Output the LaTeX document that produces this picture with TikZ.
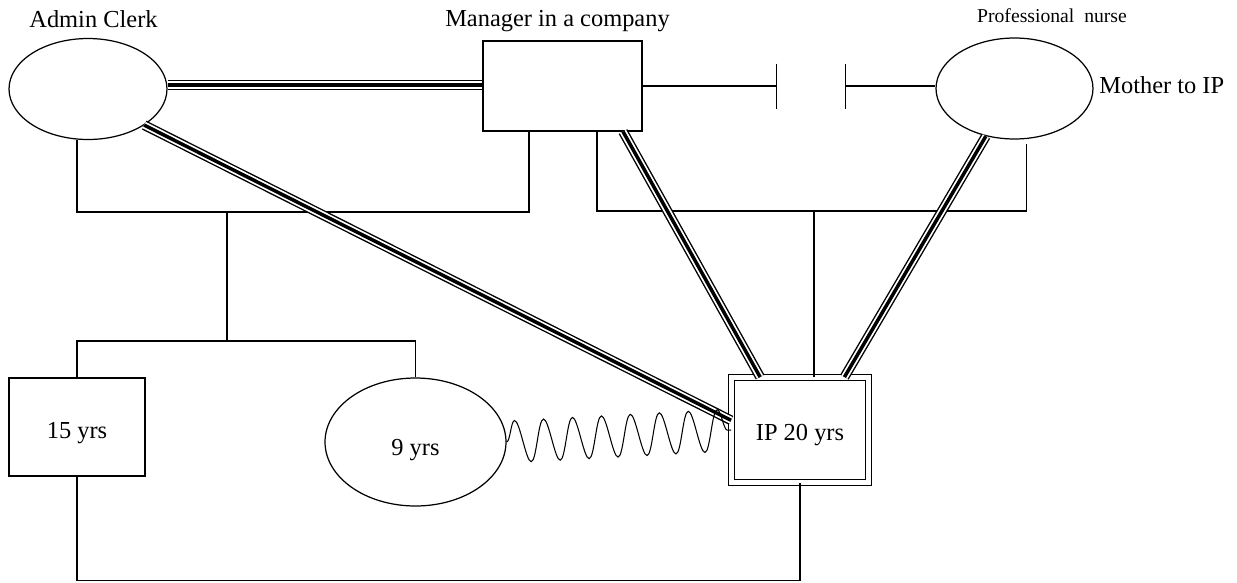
\documentclass[tikz,border=0pt]{standalone}
\usepackage{fontspec}
\setmainfont{Liberation Serif}
\usetikzlibrary{shapes.geometric,arrows.meta,calc,decorations.pathmorphing}

\tikzset{
  person/.style={draw, line width=0.7pt, inner sep=0pt, text depth=0pt},
  female/.style={person, ellipse},
  male/.style={person, rectangle},
  tie/.style={line width=0.7pt},
  strongtie/.style={line width=5.6pt,
    postaction={draw, white, line width=4.0pt},
    postaction={draw, black, line width=2.0pt}},
}

\begin{document}
\begin{tikzpicture}[x=0.02cm, y=-0.02cm, font=\fontsize{13.9}{16}\selectfont]
  \useasboundingbox (0,0) rectangle (1237,582);

  % ── People ────────────────────────────────────────────────────────────
  \node[female, minimum width=3.16cm, minimum height=2.02cm] (admin) at (88,89) {};
  \node[male, minimum width=3.18cm, minimum height=1.8cm] (mgr) at (562.5,86) {};
  \node[female, minimum width=3.14cm, minimum height=2.02cm] (mother) at (1014.5,88.5) {};
  \node[male, minimum width=2.72cm, minimum height=1.96cm, text height=12.6pt] (fifteen) at (77,427) {15 yrs};
  \node[female, minimum width=3.62cm, minimum height=2.56cm, text height=14.8pt] (nine) at (415.5,442) {9 yrs};
  \node[male, line width=0.8pt, double, double distance=2.6pt, text height=11.4pt,
        minimum width=2.73cm, minimum height=2.09cm] (ip) at (800,430) {IP 20 yrs};

  % ── Labels ────────────────────────────────────────────────────────────
  \node[anchor=base] (lbladmin) at (93.5,27) {Admin Clerk};
  \node[anchor=base] (lblmgr) at (557.5,26) {Manager in a company};
  \node[anchor=base, font=\fontsize{11.2}{13}\selectfont] (lblnurse) at (1052,22) {Professional\ \ nurse};
  \node[anchor=base west, inner sep=0pt] (lblmother) at (1099,93) {Mother to IP};

  % ── Marriage lines and children ───────────────────────────────────────
  \coordinate (wed1) at (227,212);
  \coordinate (kids1) at (227,341);
  \draw[tie] ($(admin.south)+(-11,0)$) |- (wed1) -| ($(mgr.south)+(-33.5,0)$);
  \draw[tie] (wed1) -- (kids1);
  \draw[tie] (fifteen.north) |- (kids1) -| (nine.north);

  \coordinate (wed2) at (814,211);
  \draw[tie] ($(mgr.south)+(34.5,0)$) |- (wed2) -| ($(mother.south)+(12,4)$);
  \draw[tie] (wed2) -- (wed2 |- ip.north);

  % Separation (cut-off)
  \coordinate (cutl) at (777,86);
  \coordinate (cutr) at (845,86);
  \draw[tie, -{Bar[width=0.9cm]}] (mgr.east) -- (cutl);
  \draw[tie, {Bar[width=0.9cm]}-] (cutr) -- (cutr -| mother.west);

  % ── Close relationships ───────────────────────────────────────────────
  \draw[strongtie] (admin.east |- 0,85) -- (mgr.west |- 0,85);
  \draw[strongtie] (admin.south east) -- (ip.172);
  \draw[strongtie] (mgr.-37) -- (ip.127);
  \draw[strongtie] (mother.239) -- (ip.50);

  % Conflict
  \draw[line width=0.6pt, decorate,
        decoration={snake, segment length=0.58cm, amplitude=0.42cm}] (nine.east) -- (ip.west);

  % Contact 15 yrs -- IP
  \draw[tie] (fifteen.south) -- ++(0,104) -| (ip.south);

\end{tikzpicture}
\end{document}
